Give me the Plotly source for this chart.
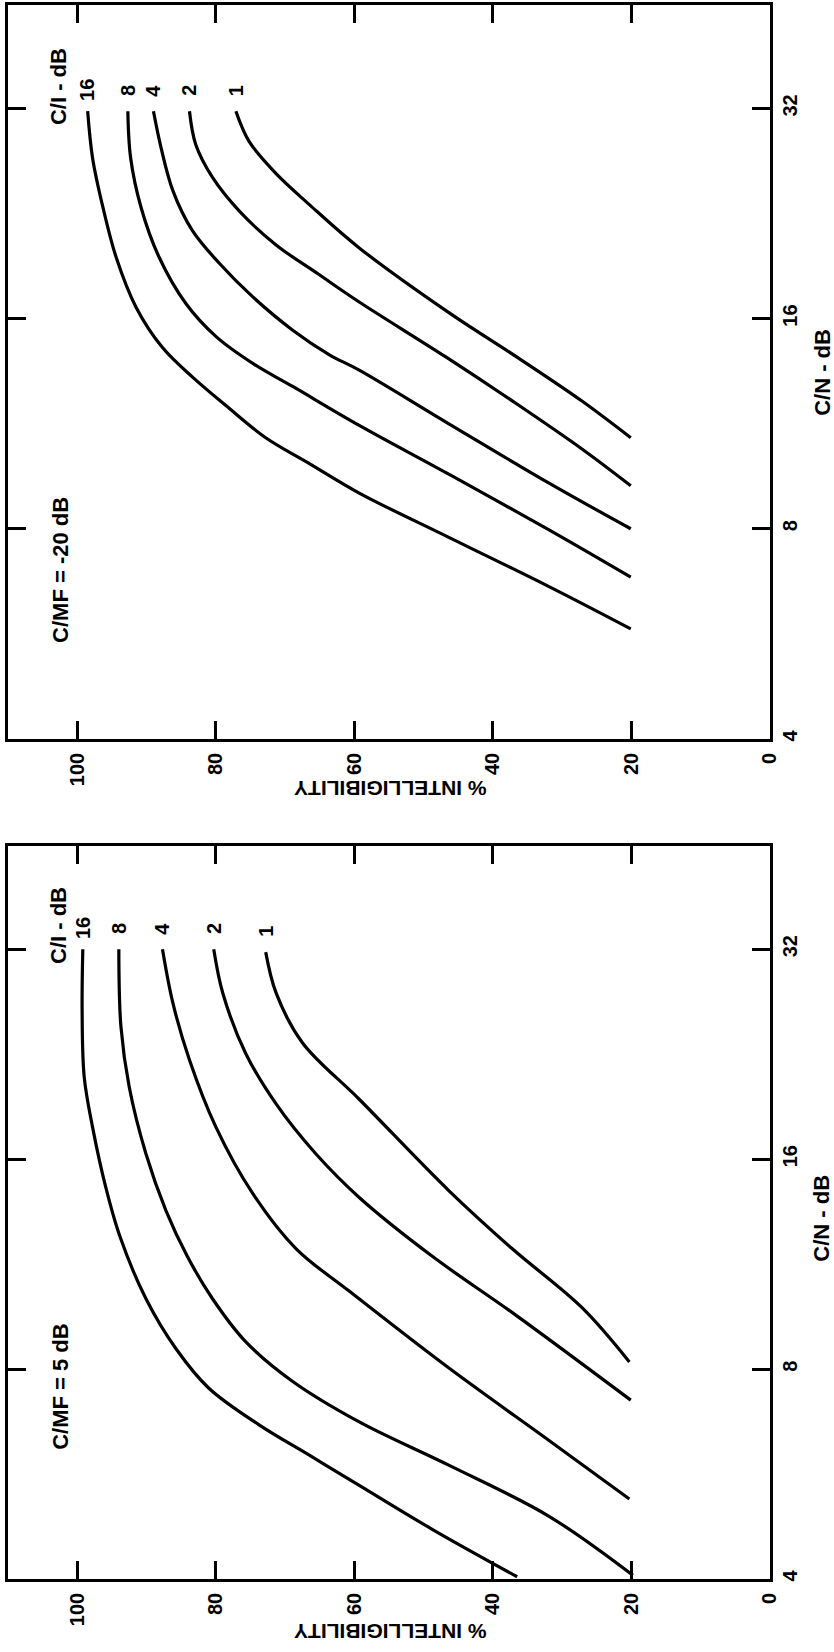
import math
import plotly.graph_objects as go

# ---- C/MF = -20 dB panel: % intelligibility vs C/N (dB) for each C/I (dB) ----
top_ci16_int = [98.5, 97.8, 96.3, 94.4, 91.5, 87.7, 83.4, 78.5, 72.8, 66.5, 59.3, 46.3, 31.9, 20.1]
top_ci16_cn = [31.7, 27.2, 23.1, 19.6, 16.6, 14.54, 13.2, 12.0, 10.8, 9.92, 9.0, 7.77, 6.61, 5.75]

top_ci8_int = [92.7, 92.3, 90.8, 88.2, 84.3, 80.0, 74.5, 68.9, 59.3, 46.3, 31.9, 20.1]
top_ci8_cn = [31.7, 27.2, 23.1, 19.6, 16.8, 15.09, 13.77, 12.79, 11.25, 9.57, 7.97, 6.82]

top_ci4_int = [89.0, 87.9, 86.2, 83.4, 79.5, 74.7, 68.9, 63.6, 59.3, 46.3, 31.9, 20.1]
top_ci4_cn = [31.7, 28.1, 24.4, 21.4, 19.2, 17.2, 15.4, 14.2, 13.5, 11.3, 9.30, 8.0]

top_ci2_int = [83.8, 82.9, 80.5, 76.6, 71.3, 65.1, 59.3, 46.8, 36.7, 27.1, 20.1]
top_ci2_cn = [31.7, 28.4, 25.5, 22.8, 20.4, 18.5, 16.9, 14.1, 12.1, 10.4, 9.22]

top_ci1_int = [77.1, 75.2, 71.3, 66.5, 59.3, 46.3, 36.2, 27.1, 20.1]
top_ci1_cn = [31.7, 28.7, 25.8, 23.3, 20.2, 16.3, 14.02, 12.18, 10.8]

# ---- C/MF = 5 dB panel ----
bot_ci16_int = [99.2, 99.3, 99.0, 97.8, 95.9, 93.8, 90.1, 85.8, 81.0, 73.7, 66.5, 59.3, 48.7, 36.5]
bot_ci16_cn = [32.0, 26.2, 21.0, 17.8, 14.6, 12.36, 10.1, 8.57, 7.51, 6.65, 6.02, 5.45, 4.71, 4.03]

bot_ci8_int = [94.0, 93.7, 92.5, 90.1, 87.2, 84.1, 80.5, 75.7, 68.9, 59.3, 46.3, 31.9, 19.8]
bot_ci8_cn = [32.0, 24.8, 20.3, 16.3, 13.5, 11.6, 10.1, 8.76, 7.68, 6.72, 5.82, 4.92, 4.05]

bot_ci4_int = [87.7, 86.2, 83.8, 80.0, 74.7, 68.4, 60.8, 46.3, 31.9, 20.3]
bot_ci4_cn = [32.0, 26.8, 22.2, 17.8, 14.3, 11.9, 10.36, 8.02, 6.32, 5.21]

bot_ci2_int = [80.3, 79.0, 75.7, 71.3, 65.6, 59.3, 48.7, 36.7, 20.1]
bot_ci2_cn = [32.0, 27.7, 22.7, 19.2, 16.3, 14.1, 11.6, 9.56, 7.22]

bot_ci1_int = [72.8, 71.3, 67.5, 59.3, 46.3, 37.2, 27.1, 20.3]
bot_ci1_cn = [31.7, 27.7, 23.5, 19.5, 14.4, 11.9, 9.79, 8.19]

ci_labels = ["16", "8", "4", "2", "1"]
int_ticks = [0, 20, 40, 60, 80, 100]
cn_ticks = [4, 8, 16, 32]

top_curves = [(top_ci16_int, top_ci16_cn), (top_ci8_int, top_ci8_cn), (top_ci4_int, top_ci4_cn),
              (top_ci2_int, top_ci2_cn), (top_ci1_int, top_ci1_cn)]
bot_curves = [(bot_ci16_int, bot_ci16_cn), (bot_ci8_int, bot_ci8_cn), (bot_ci4_int, bot_ci4_cn),
              (bot_ci2_int, bot_ci2_cn), (bot_ci1_int, bot_ci1_cn)]

FONT = "Liberation Sans"
num_font = dict(family=FONT, size=20, color="black", weight="bold")

fig = go.Figure()
annotations = []

for curves, xa, ya in [(top_curves, "x", "y"), (bot_curves, "x2", "y2")]:
    for lab, (xi, yc) in zip(ci_labels, curves):
        fig.add_trace(go.Scatter(
            x=xi, y=yc, xaxis=xa, yaxis=ya, mode="lines",
            line=dict(color="black", width=3.2, shape="spline", smoothing=1.0),
            hoverinfo="skip"))
        # C/I value written just above the start of each curve
        annotations.append(dict(
            x=xi[0], y=math.log10(yc[0]), xref=xa, yref=ya, text=lab,
            showarrow=False, textangle=-90, yshift=21, font=num_font))

def txt(x, y, s, angle=-90, size=22):
    annotations.append(dict(
        x=x, y=y, xref="paper", yref="paper", text=s, showarrow=False,
        textangle=angle, xanchor="center", yanchor="middle",
        font=dict(family=FONT, size=size, color="black", weight="bold")))

# panel captions and axis titles
txt(0.068, 0.641, "C/MF = -20 dB")
txt(0.068, 0.1226, "C/MF = 5 dB")
txt(0.0656, 0.9485, "C/I - dB")
txt(0.0656, 0.4155, "C/I - dB")
txt(1.068, 0.7668, "C/N - dB")
txt(1.068, 0.2294, "C/N - dB")
txt(0.501, 0.5019, "% INTELLIGIBILITY", angle=180, size=21)
txt(0.501, -0.033, "% INTELLIGIBILITY", angle=180, size=21)

def xaxis(anchor):
    return dict(
        anchor=anchor, domain=[0, 1], range=[110, 0],
        tickvals=int_ticks, ticktext=[str(v) for v in int_ticks],
        ticks="inside", ticklen=18, tickwidth=2.5, tickcolor="black",
        showline=True, linecolor="black", linewidth=2.6, mirror="ticks",
        showgrid=False, zeroline=False, tickangle=-90, tickfont=num_font,
        ticklabelstandoff=3, automargin=False, fixedrange=True)

def yaxis(anchor, domain):
    return dict(
        anchor=anchor, domain=domain, type="log",
        range=[math.log10(4), math.log10(45)], side="right",
        tickvals=cn_ticks, ticktext=[str(v) for v in cn_ticks],
        ticks="inside", ticklen=18, tickwidth=2.5, tickcolor="black",
        showline=True, linecolor="black", linewidth=2.6, mirror="ticks",
        showgrid=False, zeroline=False, tickangle=-90, tickfont=num_font,
        ticklabelstandoff=0, automargin=False, fixedrange=True)

fig.update_layout(
    width=834, height=1652,
    margin=dict(l=8, r=64, t=5, b=73),
    paper_bgcolor="white", plot_bgcolor="white",
    showlegend=False,
    xaxis=xaxis("y"), yaxis=yaxis("x", [0.5337, 1]),
    xaxis2=xaxis("y2"), yaxis2=yaxis("x2", [0, 0.4657]),
    annotations=annotations,
)

fig.write_html("out.html")
